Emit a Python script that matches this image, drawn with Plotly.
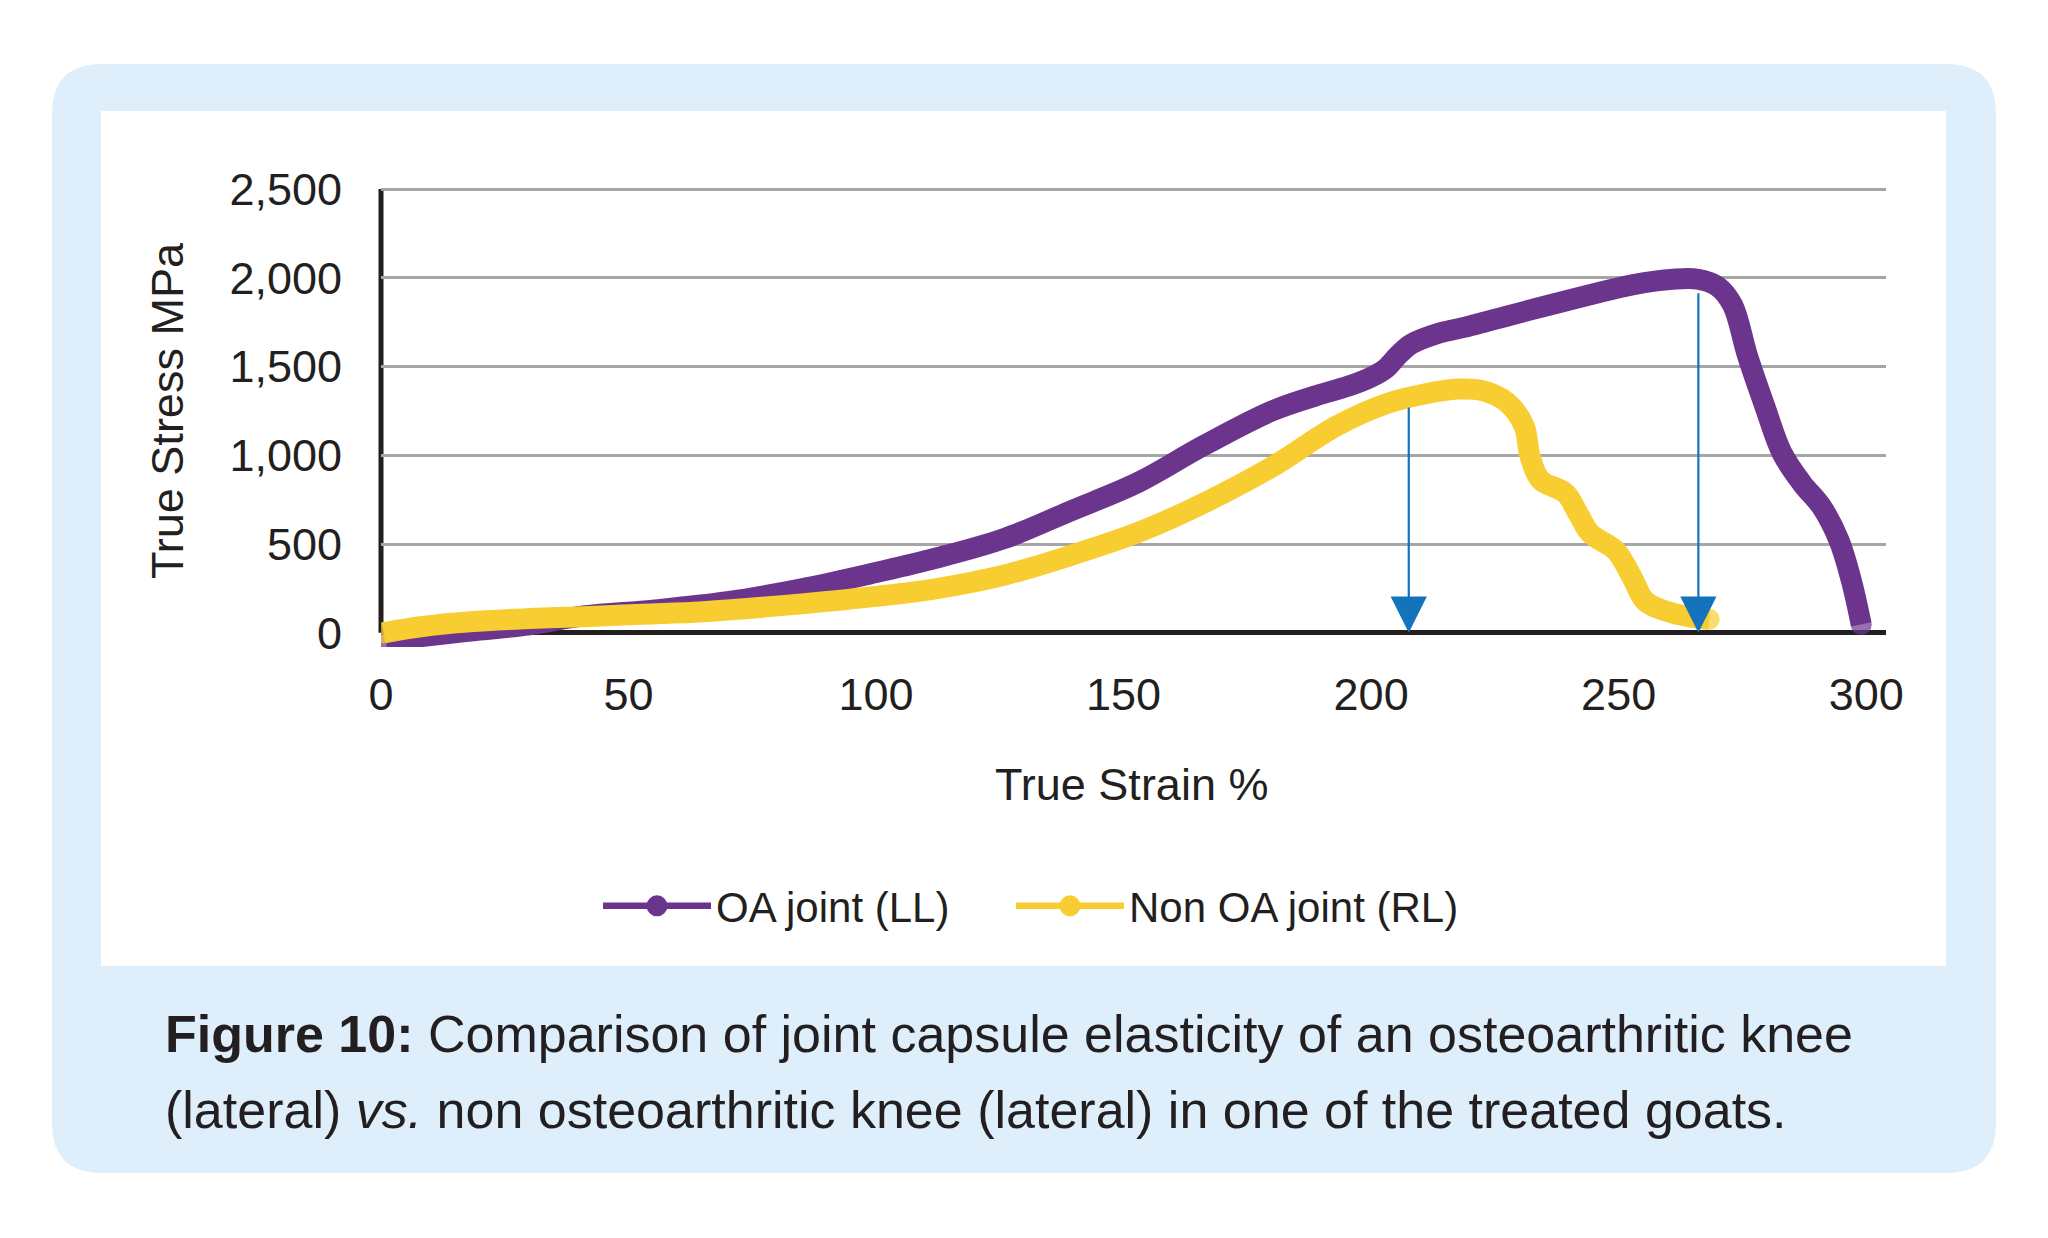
import plotly.graph_objects as go

# ---------------- data ----------------
OA_X = [1, 10, 20, 30, 41, 55, 70, 85, 100, 112, 126, 139, 153, 166, 180, 190, 196,
        200, 203, 205.5, 208, 213, 219, 232, 244, 253, 261, 266, 270, 273, 276, 279.5,
        283, 287, 291, 294.5, 297, 299]
OA_Y = [-45, -15, 15, 45, 95, 128, 175, 248, 340, 420, 532, 683, 848, 1052, 1250, 1345, 1395,
        1440, 1490, 1565, 1625, 1682, 1722, 1818, 1903, 1962, 1992, 1992, 1951, 1847, 1563, 1278,
        1013, 843, 710, 521, 294, 47]

NON_X = [0.5, 8, 18, 30, 41, 53, 65, 85, 100, 112, 126, 139, 153, 166, 180, 193, 203,
         210.8, 217.5, 222.5, 227.5, 230.9, 232.1, 234.2, 239.3, 241.8, 244.3, 249.4,
         252.7, 255.3, 259.4, 265.3, 268.3]
NON_Y = [0, 34, 62, 80, 91, 105, 119, 163, 205, 248, 326, 433, 566, 728, 935, 1165, 1290,
         1345, 1373, 1364, 1297, 1165, 994, 862, 786, 672, 559, 464,
         313, 180, 123, 85, 76]

ARROW_X = [207.6, 266.1]
ARROW_TOP = [1278, 1922]

X_TICKS = [0, 50, 100, 150, 200, 250, 300]
Y_TICKS = [0, 500, 1000, 1500, 2000, 2500]
Y_TICK_LABELS = ["0", "500", "1,000", "1,500", "2,000", "2,500"]

SERIES_NAMES = ["OA joint (LL)", "Non OA joint (RL)"]
X_TITLE = "True Strain %"
Y_TITLE = "True Stress MPa"
CAPTION_1 = "<b>Figure 10:</b> Comparison of joint capsule elasticity of an osteoarthritic knee"
CAPTION_2 = "(lateral) <i>vs.</i> non osteoarthritic knee (lateral) in one of the treated goats."

# ---------------- layout geometry (pixels) ----------------
W, H = 2048, 1238
PL, PR, PT, PB = 381, 1886, 188, 647   # plot area edges
Y_MIN, Y_MAX = -80, 2506
FONT = "Liberation Sans, Arial, Helvetica, sans-serif"
TXT = "#231f20"
PURPLE = "#6b358d"
YELLOW = "#f8cd32"
BLUE = "#1474bb"
LIGHT = "#deeffb"
LW = 21
LEGEND_X_PX = [598, 1011]


def px_x(p):
    return (p - PL) / (PR - PL)


def px_y(p):
    return (PB - p) / (PB - PT)


def rrect(x0, y0, x1, y1, r):
    def P(x, y):
        return f"{px_x(x):.5f},{px_y(y):.5f}"
    return (f"M{P(x0 + r, y0)} L{P(x1 - r, y0)} Q{P(x1, y0)} {P(x1, y0 + r)} "
            f"L{P(x1, y1 - r)} Q{P(x1, y1)} {P(x1 - r, y1)} L{P(x0 + r, y1)} "
            f"Q{P(x0, y1)} {P(x0, y1 - r)} L{P(x0, y0 + r)} Q{P(x0, y0)} {P(x0 + r, y0)} Z")


def end_sizes(n):
    return [LW] + [0] * (n - 2) + [LW]


fig = go.Figure()

for xs, ys, col in [(OA_X, OA_Y, PURPLE), (NON_X, NON_Y, YELLOW)]:
    fig.add_trace(go.Scatter(
        x=xs, y=ys, mode="lines+markers",
        line=dict(color=col, width=LW, shape="spline", smoothing=1.0),
        marker=dict(color=col, size=end_sizes(len(xs)), line=dict(width=0)),
        showlegend=False, hoverinfo="skip"))

for i, (name, col) in enumerate(zip(SERIES_NAMES, [PURPLE, YELLOW])):
    fig.add_trace(go.Scatter(
        x=[None], y=[None], mode="lines+markers", name=name,
        legend="legend" if i == 0 else "legend2",
        line=dict(color=col, width=6.5),
        marker=dict(color=col, size=24, line=dict(color=col, width=6))))

shapes = [
    dict(type="path", xref="paper", yref="paper", path=rrect(52, 64, 1996, 1173, 50),
         fillcolor=LIGHT, line=dict(width=0), layer="below"),
    dict(type="rect", xref="paper", yref="paper",
         x0=px_x(101), x1=px_x(1946), y0=px_y(966), y1=px_y(111),
         fillcolor="white", line=dict(width=0), layer="below"),
    dict(type="line", xref="paper", yref="y", x0=0, x1=0, y0=0, y1=Y_TICKS[-1],
         line=dict(color=TXT, width=5), layer="between"),
]

annotations = []
for xa, top in zip(ARROW_X, ARROW_TOP):
    annotations.append(dict(
        x=xa, y=0, ax=xa, ay=top, xref="x", yref="y", axref="x", ayref="y",
        text="", showarrow=True, arrowhead=2, arrowsize=3.3, arrowwidth=2.2,
        arrowcolor=BLUE, standoff=0, startstandoff=0))

annotations += [
    dict(text=Y_TITLE, textangle=-90, xref="paper", yref="paper",
         x=px_x(167), y=px_y(410), xanchor="center", yanchor="middle",
         showarrow=False, font=dict(size=45, color=TXT, family=FONT)),
    dict(text=X_TITLE, xref="paper", yref="paper",
         x=px_x(1131), y=px_y(784), xanchor="center", yanchor="middle",
         showarrow=False, font=dict(size=45, color=TXT, family=FONT)),
    dict(text=CAPTION_1, xref="paper", yref="paper",
         x=px_x(163), y=px_y(1034), xanchor="left", yanchor="middle",
         showarrow=False, font=dict(size=52, color=TXT, family=FONT)),
    dict(text=CAPTION_2, xref="paper", yref="paper",
         x=px_x(163), y=px_y(1110), xanchor="left", yanchor="middle",
         showarrow=False, font=dict(size=52, color=TXT, family=FONT)),
]


def legend_cfg(xpx):
    return dict(orientation="h", x=px_x(xpx), y=px_y(906), xanchor="left", yanchor="middle",
                font=dict(size=42, color=TXT, family=FONT), itemwidth=108,
                bgcolor="rgba(0,0,0,0)")


fig.update_layout(
    width=W, height=H, autosize=False,
    margin=dict(l=PL, r=W - PR, t=PT, b=H - PB, pad=0),
    paper_bgcolor="white", plot_bgcolor="rgba(0,0,0,0)",
    font=dict(family=FONT, color=TXT, size=45),
    shapes=shapes, annotations=annotations,
    showlegend=True,
    legend=legend_cfg(LEGEND_X_PX[0]),
    legend2=legend_cfg(LEGEND_X_PX[1]),
    xaxis=dict(range=[0, 304], tickvals=X_TICKS, showgrid=False, zeroline=False,
               showline=False, ticks="", ticklabelstandoff=17,
               tickfont=dict(size=45, color=TXT, family=FONT), fixedrange=True),
    yaxis=dict(range=[Y_MIN, Y_MAX], tickvals=Y_TICKS, ticktext=Y_TICK_LABELS,
               showgrid=True, gridcolor="#a6a6a6", gridwidth=2.5,
               zeroline=True, zerolinecolor=TXT, zerolinewidth=5,
               showline=False, ticks="", ticklabelstandoff=38,
               tickfont=dict(size=45, color=TXT, family=FONT), fixedrange=True),
)

fig.write_html("out.html", config={"displayModeBar": False},
               post_script="document.body.style.margin='0';")
